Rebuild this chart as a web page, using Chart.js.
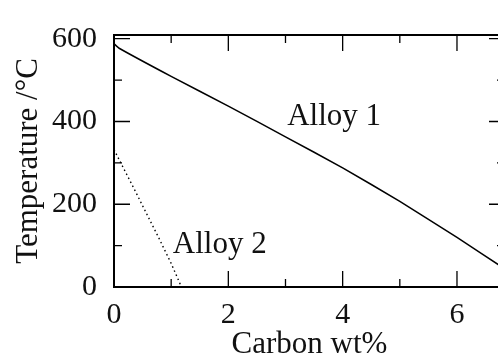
<!DOCTYPE html>
<html>
<head>
<meta charset="utf-8">
<script src="https://cdn.jsdelivr.net/npm/chart.js@4"></script>
<style>
  html, body { margin: 0; padding: 0; background: #fff; overflow: hidden; }
  #wrap { width: 510px; height: 360px; }
</style>
</head>
<body>
<div id="wrap"><canvas id="alloyChart" width="510" height="360"></canvas></div>
<script>
// === Data ===
const alloy1Carbon = [0, 0.09, 1, 2, 3, 4, 5, 6, 6.9];
const alloy1Temp   = [588, 577, 509, 437, 363, 288, 207, 120, 38];

const alloy2Carbon = [0, 0.2, 0.4, 0.6, 0.8, 1.0, 1.18];
const alloy2Temp   = [332, 278, 224, 169, 114, 57, 0];

const xTickValues = [0, 2, 4, 6];
const yTickValues = [0, 200, 400, 600];
const xMinorValues = [1, 3, 5];
const yMinorValues = [100, 300, 500];

const seriesLabels = [
  { text: 'Alloy 1', x: 3.85, y: 411 },
  { text: 'Alloy 2', x: 1.85, y: 101 }
];

const FONT = "'Liberation Serif', 'DejaVu Serif', serif";

function toPoints(xs, ys) {
  return xs.map((x, i) => ({ x: x, y: ys[i] }));
}

// frame, inward ticks on all four sides and in-plot labels
const framePlugin = {
  id: 'frame',
  afterDraw(chart) {
    const { ctx, chartArea: a, scales: { x, y } } = chart;
    ctx.save();
    ctx.strokeStyle = '#000';
    ctx.lineWidth = 1.3;
    ctx.beginPath();
    const tick = (vals, len) => {
      vals.forEach(v => {
        const px = x.getPixelForValue(v);
        ctx.moveTo(px, a.bottom); ctx.lineTo(px, a.bottom - len);
        ctx.moveTo(px, a.top); ctx.lineTo(px, a.top + len);
      });
    };
    const tickY = (vals, len) => {
      vals.forEach(v => {
        const py = y.getPixelForValue(v);
        ctx.moveTo(a.left, py); ctx.lineTo(a.left + len, py);
        ctx.moveTo(a.right, py); ctx.lineTo(a.right - len, py);
      });
    };
    tick(xTickValues, 16);
    tick(xMinorValues, 8);
    tickY(yTickValues, 16);
    tickY(yMinorValues, 8);
    ctx.stroke();

    ctx.lineWidth = 2;
    ctx.strokeRect(a.left, a.top, a.right - a.left, a.bottom - a.top);

    ctx.fillStyle = '#111';
    ctx.font = '31px ' + FONT;
    ctx.textAlign = 'center';
    ctx.textBaseline = 'middle';
    seriesLabels.forEach(l => {
      ctx.fillText(l.text, x.getPixelForValue(l.x), y.getPixelForValue(l.y));
    });
    ctx.restore();
  }
};

new Chart(document.getElementById('alloyChart'), {
  type: 'scatter',
  data: {
    datasets: [
      {
        label: 'Alloy 1',
        data: toPoints(alloy1Carbon, alloy1Temp),
        showLine: true,
        borderColor: '#000',
        borderWidth: 1.5,
        pointRadius: 0,
        tension: 0.15,
        clip: 0
      },
      {
        label: 'Alloy 2',
        data: toPoints(alloy2Carbon, alloy2Temp),
        showLine: true,
        borderColor: '#000',
        borderWidth: 1.4,
        borderDash: [1.5, 3],
        pointRadius: 0,
        tension: 0,
        clip: 0
      }
    ]
  },
  options: {
    responsive: false,
    animation: false,
    events: [],
    layout: { padding: { top: 16, right: 5, left: 0, bottom: 0 } },
    plugins: {
      legend: { display: false },
      tooltip: { enabled: false }
    },
    scales: {
      x: {
        type: 'linear',
        min: 0,
        max: 6.84,
        grid: { display: false, drawTicks: false },
        border: { display: false },
        afterBuildTicks: s => { s.ticks = xTickValues.map(v => ({ value: v })); },
        afterFit: s => { s.height = 73; },
        ticks: { padding: 10, color: '#111', font: { family: FONT, size: 30 }, maxRotation: 0 },
        title: {
          display: true,
          text: 'Carbon wt%',
          color: '#111',
          font: { family: FONT, size: 31 },
          padding: { top: 0, bottom: -3 }
        }
      },
      y: {
        type: 'linear',
        min: 0,
        max: 609,
        grid: { display: false, drawTicks: false },
        border: { display: false },
        afterBuildTicks: s => { s.ticks = yTickValues.map(v => ({ value: v })); },
        afterFit: s => { s.width = 114; },
        ticks: { padding: 17, color: '#111', font: { family: FONT, size: 30 } },
        title: {
          display: true,
          text: 'Temperature /°C',
          color: '#111',
          font: { family: FONT, size: 31 },
          padding: { top: 10, bottom: 0 }
        }
      }
    }
  },
  plugins: [framePlugin]
});
</script>
</body>
</html>
